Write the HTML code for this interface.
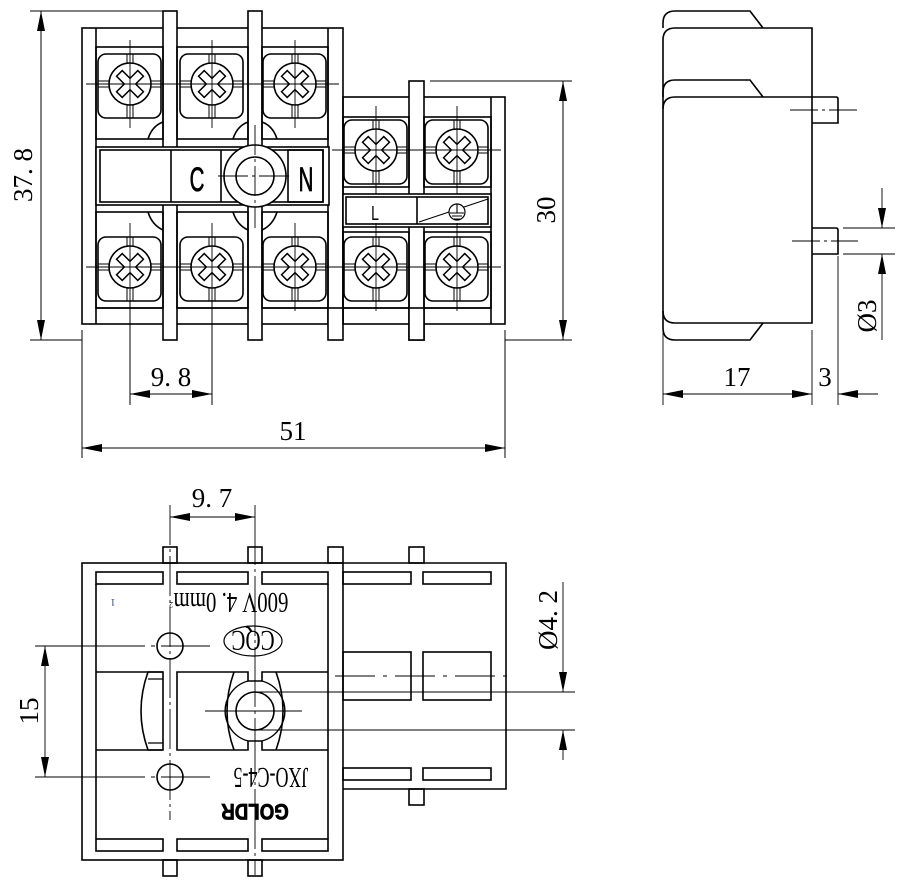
<!DOCTYPE html>
<html><head><meta charset="utf-8"><style>
html,body{margin:0;padding:0;background:#fff;}
svg{display:block;}
text{font-family:"Liberation Serif",serif;fill:#000;}
</style></head><body>
<svg width="898" height="883" viewBox="0 0 898 883" xmlns="http://www.w3.org/2000/svg">
<defs>
<marker id="a" viewBox="0 0 20 8" refX="20" refY="4" markerWidth="20" markerHeight="8" orient="auto-start-reverse" markerUnits="userSpaceOnUse"><path d="M0,0 L20,4 L0,8 Z" fill="#000"/></marker>
<g id="scr">
<rect x="-32" y="-30" width="63" height="64" rx="8" fill="none" stroke="#000" stroke-width="1.6"/>
<line x1="-3" y1="-30" x2="-3" y2="-20" stroke="#000" stroke-width="1"/><line x1="3" y1="-30" x2="3" y2="-20" stroke="#000" stroke-width="1"/>
<line x1="-3" y1="34" x2="-3" y2="21" stroke="#000" stroke-width="1"/><line x1="3" y1="34" x2="3" y2="21" stroke="#000" stroke-width="1"/>
<line x1="-32" y1="-3" x2="-21" y2="-3" stroke="#000" stroke-width="1"/><line x1="-32" y1="3" x2="-21" y2="3" stroke="#000" stroke-width="1"/>
<line x1="31" y1="-3" x2="21" y2="-3" stroke="#000" stroke-width="1"/><line x1="31" y1="3" x2="21" y2="3" stroke="#000" stroke-width="1"/>
<circle r="21" fill="#fff" stroke="#000" stroke-width="1.6"/>
<path d="M-4,-15 L4,-15 L4,-4 L15,-4 L15,4 L4,4 L4,15 L-4,15 L-4,4 L-15,4 L-15,-4 L-4,-4 Z" transform="rotate(45)" fill="none" stroke="#000" stroke-width="1.5"/>
<line x1="0" y1="-44" x2="0" y2="44" stroke="#000" stroke-width="0.9"/>
<line x1="-44" y1="0" x2="44" y2="0" stroke="#000" stroke-width="0.9"/>
</g>
</defs>

<g fill="none" stroke="#000" stroke-width="1.6">
<rect x="82" y="28" width="261" height="296"/>
<line x1="96" y1="28" x2="96" y2="324"/>
<line x1="328" y1="28" x2="328" y2="324"/>
<line x1="96" y1="308" x2="328" y2="308"/>
<rect x="163" y="11" width="14" height="329" fill="#fff"/>
<rect x="248" y="11" width="14" height="329" fill="#fff"/>
<rect x="328" y="308" width="15" height="32" fill="#fff"/>
<rect x="96" y="47" width="67" height="92"/>
<rect x="177" y="47" width="71" height="92"/>
<rect x="262" y="47" width="66" height="92"/>
<rect x="96" y="212" width="67" height="96"/>
<rect x="177" y="212" width="71" height="96"/>
<rect x="262" y="212" width="66" height="96"/>
<path d="M148,139 Q152,126 163,122"/><path d="M233,139 Q237,126 248,122"/><path d="M277,139 Q273,126 262,122"/>
<path d="M148,212 Q152,225 163,230"/><path d="M233,212 Q237,225 248,230"/><path d="M277,212 Q273,225 262,230"/>
<rect x="96" y="147" width="233" height="58" fill="#fff"/>
<rect x="100" y="150" width="223" height="52"/>
<line x1="171" y1="150" x2="171" y2="202"/>
<line x1="221" y1="150" x2="221" y2="202"/>
<rect x="288" y="150" width="35" height="52"/>
<circle cx="255" cy="176" r="31" fill="#fff"/>
<circle cx="255" cy="176" r="19"/>
<rect x="343" y="97" width="162" height="227"/>
<line x1="491" y1="97" x2="491" y2="324"/>
<line x1="343" y1="308" x2="491" y2="308"/>
<rect x="409" y="81" width="15" height="259" fill="#fff"/>
<rect x="343" y="117" width="66" height="70"/>
<rect x="424" y="117" width="67" height="70"/>
<rect x="343" y="232" width="66" height="76"/>
<rect x="424" y="232" width="67" height="76"/>
<rect x="343" y="194" width="148" height="33" fill="#fff"/>
<rect x="346" y="197" width="142" height="27"/>
<line x1="417" y1="197" x2="417" y2="224"/>
<line x1="419" y1="222" x2="488" y2="199" stroke-width="1"/>
<circle cx="457" cy="212" r="8" fill="#fff" stroke-width="1.2"/>
<path d="M457,204 V213 M450,213 H464 M452,216 H462 M454,219 H460" stroke-width="1.1"/>
<rect x="409" y="308" width="15" height="32" fill="#fff"/>
</g>
<g stroke="#000" stroke-width="0.9" stroke-dasharray="30,4,3,4">
<line x1="255" y1="125" x2="255" y2="228"/>
<line x1="218" y1="176" x2="293" y2="176"/>
</g>
<use href="#scr" x="130" y="84"/><use href="#scr" x="212" y="84"/><use href="#scr" x="295" y="84"/>
<use href="#scr" x="130" y="267"/><use href="#scr" x="212" y="267"/><use href="#scr" x="295" y="267"/>
<use href="#scr" x="376" y="150"/><use href="#scr" x="457" y="150"/>
<use href="#scr" x="376" y="267"/><use href="#scr" x="457" y="267"/>
<text x="197" y="191" font-size="34" text-anchor="middle" stroke="#000" stroke-width="0.8" transform="translate(197,0) scale(0.6,1) translate(-197,0)" style="font-family:'Liberation Sans',sans-serif">C</text>
<text x="306" y="191" font-size="34" text-anchor="middle" stroke="#000" stroke-width="0.8" transform="translate(306,0) scale(0.6,1) translate(-306,0)" style="font-family:'Liberation Sans',sans-serif">N</text>
<text x="375" y="220" font-size="20" text-anchor="middle" transform="translate(375,0) scale(0.7,1) translate(-375,0)" style="font-family:'Liberation Sans',sans-serif">L</text>

<g stroke="#000" stroke-width="1" fill="none">
<line x1="30" y1="11" x2="163" y2="11"/>
<line x1="30" y1="340" x2="82" y2="340"/>
<line x1="41" y1="11" x2="41" y2="340" marker-start="url(#a)" marker-end="url(#a)"/>
<line x1="430" y1="81" x2="572" y2="81"/>
<line x1="505" y1="340" x2="572" y2="340"/>
<line x1="563" y1="81" x2="563" y2="340" marker-start="url(#a)" marker-end="url(#a)"/>
<line x1="130" y1="300" x2="130" y2="405"/>
<line x1="212" y1="300" x2="212" y2="405"/>
<line x1="130" y1="394" x2="212" y2="394" marker-start="url(#a)" marker-end="url(#a)"/>
<line x1="82" y1="330" x2="82" y2="458"/>
<line x1="505" y1="330" x2="505" y2="458"/>
<line x1="82" y1="448" x2="505" y2="448" marker-start="url(#a)" marker-end="url(#a)"/>
</g>
<text x="0" y="0" font-size="27" text-anchor="middle" transform="translate(32,175) rotate(-90)">37. 8</text>
<text x="0" y="0" font-size="27" text-anchor="middle" transform="translate(555,210) rotate(-90)">30</text>
<text x="171" y="386" font-size="27" text-anchor="middle">9. 8</text>
<text x="293" y="440" font-size="27" text-anchor="middle">51</text>

<g fill="none" stroke="#000" stroke-width="1.6">
<path d="M663,28 V23 Q663,11 675,11 H750 L763,28"/>
<path d="M663,97 V92 Q663,80 675,80 H750 L763,97"/>
<path d="M675,28 H812 V323 H675 Q663,323 663,311 V40 Q663,28 675,28 Z"/>
<path d="M675,97 H812 M675,97 Q663,97 663,109"/>
<path d="M663,311 V328 Q663,340 675,340 H750 L763,323"/>
<path d="M812,97 H836 Q838,97 838,99 V123 H812"/>
<path d="M812,228 H836 Q838,228 838,230 V254 H812"/>
</g>
<g stroke="#000" stroke-width="0.9" fill="none">
<line x1="790" y1="110" x2="858" y2="110" stroke-dasharray="28,4,3,4"/>
<line x1="792" y1="241" x2="858" y2="241" stroke-dasharray="28,4,3,4"/>
<line x1="843" y1="228" x2="895" y2="228"/>
<line x1="843" y1="254" x2="895" y2="254"/>
<line x1="882" y1="188" x2="882" y2="228" marker-end="url(#a)"/>
<line x1="882" y1="340" x2="882" y2="254" marker-end="url(#a)"/>
<line x1="663" y1="330" x2="663" y2="405"/>
<line x1="812" y1="330" x2="812" y2="405"/>
<line x1="838" y1="256" x2="838" y2="405"/>
<line x1="663" y1="394" x2="812" y2="394" marker-start="url(#a)" marker-end="url(#a)"/>
<line x1="878" y1="394" x2="838" y2="394" marker-end="url(#a)"/>
</g>
<text x="737" y="386" font-size="27" text-anchor="middle">17</text>
<text x="825" y="386" font-size="27" text-anchor="middle">3</text>
<text x="0" y="0" font-size="27" text-anchor="middle" transform="translate(876,316) rotate(-90)">Ø3</text>

<g fill="none" stroke="#000" stroke-width="1.6">
<rect x="163" y="547" width="14" height="16"/><rect x="248" y="547" width="14" height="16"/>
<rect x="328" y="547" width="15" height="16"/><rect x="409" y="547" width="15" height="16"/>
<rect x="163" y="860" width="14" height="16"/><rect x="248" y="860" width="14" height="16"/>
<rect x="409" y="789" width="15" height="16"/>
<rect x="82" y="563" width="261" height="297"/>
<path d="M343,563 H506 V789 H343"/>
<line x1="96" y1="584" x2="96" y2="839"/>
<line x1="328" y1="584" x2="328" y2="839"/>
<rect x="96" y="572" width="67" height="12"/><rect x="177" y="572" width="71" height="12"/><rect x="262" y="572" width="66" height="12"/>
<rect x="343" y="572" width="68" height="12"/><rect x="423" y="572" width="68" height="12"/>
<rect x="96" y="839" width="67" height="12"/><rect x="177" y="839" width="71" height="12"/><rect x="262" y="839" width="66" height="12"/>
<rect x="343" y="768" width="68" height="12"/><rect x="423" y="768" width="68" height="12"/>
<rect x="343" y="652" width="68" height="48"/><rect x="423" y="652" width="68" height="48"/>
<path d="M96,672 H163 V750 H96"/>
<path d="M328,672 H262 V681 H248 V672 H177 V750 H248 V741 H262 V750 H328"/>
<path d="M163,672 H148 Q134,711 148,750 H163" />
<path d="M148,679 H163 M148,743 H163" stroke-width="1.2"/>
<path d="M234,672 Q220,711 234,750 M276,672 Q290,711 276,750" />
<path d="M248,681 A31,31 0 0 0 226,718 M262,681 A31,31 0 0 1 284,718 M248,741 A31,31 0 0 1 226,704 M262,741 A31,31 0 0 0 284,704" stroke-width="1.4"/>
<circle cx="255" cy="711" r="19"/>
<circle cx="170" cy="646" r="13"/>
<circle cx="170" cy="777" r="13"/>
<ellipse cx="253" cy="641" rx="29" ry="15" stroke-width="1.2"/>
</g>
<g stroke="#000" stroke-width="0.9" fill="none">
<line x1="170" y1="505" x2="170" y2="820" stroke-dasharray="40,4,3,4"/>
<line x1="255" y1="505" x2="255" y2="875" stroke-dasharray="60,4,3,4"/>
<line x1="35" y1="646" x2="210" y2="646" stroke-dasharray="110,6,4,6"/>
<line x1="35" y1="777" x2="210" y2="777" stroke-dasharray="110,6,4,6"/>
<line x1="205" y1="711" x2="302" y2="711"/>
<line x1="335" y1="676" x2="510" y2="676" stroke-dasharray="40,8,4,8"/>
<line x1="255" y1="692" x2="575" y2="692"/>
<line x1="255" y1="730" x2="575" y2="730"/>
<line x1="563" y1="582" x2="563" y2="692" marker-end="url(#a)"/>
<line x1="563" y1="760" x2="563" y2="730" marker-end="url(#a)"/>
<line x1="45" y1="646" x2="45" y2="777" marker-start="url(#a)" marker-end="url(#a)"/>
<line x1="170" y1="517" x2="255" y2="517" marker-start="url(#a)" marker-end="url(#a)"/>
</g>
<text x="212" y="507" font-size="27" text-anchor="middle">9. 7</text>
<text x="0" y="0" font-size="27" text-anchor="middle" transform="translate(38,711) rotate(-90)">15</text>
<text x="0" y="0" font-size="27" text-anchor="middle" transform="translate(557,620) rotate(-90)">Ø4. 2</text>
<g transform="rotate(180,231,603) translate(231,0) scale(0.72,1) translate(-231,0)"><text x="231" y="613" font-size="29" text-anchor="middle">600V 4. 0mm</text></g>
<g transform="rotate(180,173,605)"><text x="173" y="608" font-size="8">2</text></g>
<g transform="rotate(180,113,603)"><text x="113" y="607" font-size="10" text-anchor="middle" style="fill:#1a3a8a">1</text></g>
<g transform="rotate(180,253,641) translate(253,0) scale(0.75,1) translate(-253,0)"><text x="253" y="651" font-size="28" text-anchor="middle">CQC</text></g>
<g transform="rotate(180,271,778) translate(271,0) scale(0.62,1) translate(-271,0)"><text x="271" y="788" font-size="29" text-anchor="middle">JXO-C4-5</text></g>
<g transform="rotate(180,255,812)"><text x="255" y="820" font-size="22" font-weight="bold" text-anchor="middle" stroke="#000" stroke-width="0.8" transform="translate(255,0) scale(0.85,1) translate(-255,0)" style="font-family:'Liberation Sans',sans-serif">GOLDR</text></g>
</svg>
</body></html>
